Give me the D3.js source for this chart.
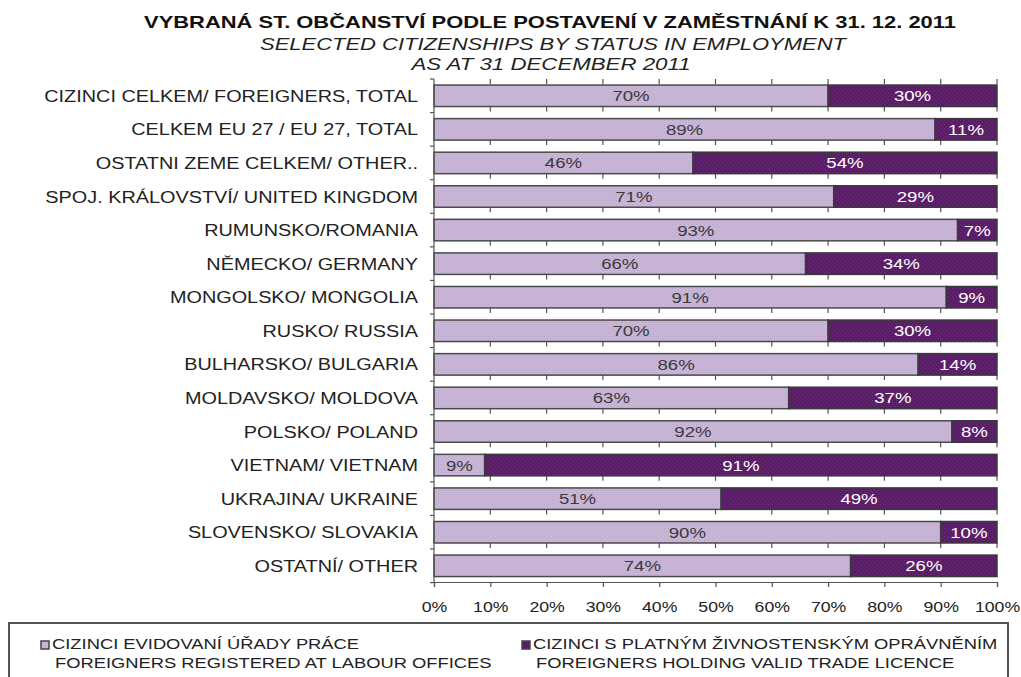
<!DOCTYPE html>
<html lang="cs">
<head>
<meta charset="UTF-8">
<title>Vybraná st. občanství podle postavení v zaměstnání</title>
<style>
  body { margin: 0; background: #fff; }
  svg { display: block; font-family: "Liberation Sans", Arial, sans-serif; }
</style>
</head>
<body>
<svg width="1021" height="677"></svg>
<script src="https://d3js.org/d3.v7.min.js"></script>
<script>
// data
const categories = [
  "CIZINCI CELKEM/ FOREIGNERS, TOTAL",
  "CELKEM EU 27 / EU 27, TOTAL ",
  "OSTATNI ZEME CELKEM/ OTHER..",
  "SPOJ. KRÁLOVSTVÍ/ UNITED KINGDOM",
  "RUMUNSKO/ROMANIA",
  "NĚMECKO/ GERMANY",
  "MONGOLSKO/ MONGOLIA",
  "RUSKO/ RUSSIA",
  "BULHARSKO/ BULGARIA",
  "MOLDAVSKO/ MOLDOVA",
  "POLSKO/ POLAND",
  "VIETNAM/ VIETNAM",
  "UKRAJINA/ UKRAINE",
  "SLOVENSKO/ SLOVAKIA",
  "OSTATNÍ/ OTHER"
];
const labourOffices = [70, 89, 46, 71, 93, 66, 91, 70, 86, 63, 92, 9, 51, 90, 74];
const tradeLicence  = [30, 11, 54, 29, 7, 34, 9, 30, 14, 37, 8, 91, 49, 10, 26];
const xTicks = [0, 10, 20, 30, 40, 50, 60, 70, 80, 90, 100];
const seriesNames = [
  ["CIZINCI EVIDOVANÍ ÚŘADY PRÁCE", "FOREIGNERS REGISTERED AT LABOUR OFFICES"],
  ["CIZINCI S PLATNÝM ŽIVNOSTENSKÝM OPRÁVNĚNÍM", "FOREIGNERS HOLDING VALID TRADE LICENCE"]
];
const colors = ["#c9b6d6", "#5a1c68"];

const svg = d3.select("svg");

// the original text is rendered wide, so stretch it horizontally
function widen(sel, k) {
  sel.each(function () {
    const w = this.getComputedTextLength();
    d3.select(this).attr("textLength", w * k).attr("lengthAdjust", "spacingAndGlyphs");
  });
}

// pattern fills to mimic the dithered look
const defs = svg.append("defs");
function dither(id, base, dot) {
  const p = defs.append("pattern").attr("id", id)
    .attr("width", 4).attr("height", 4).attr("patternUnits", "userSpaceOnUse");
  p.append("rect").attr("width", 4).attr("height", 4).attr("fill", base);
  p.append("rect").attr("x", 0).attr("y", 0).attr("width", 1).attr("height", 1).attr("fill", dot);
  p.append("rect").attr("x", 2).attr("y", 2).attr("width", 1).attr("height", 1).attr("fill", dot);
}
dither("lightFill", colors[0], "#b9a5c8");
dither("darkFill", colors[1], "#6e3479");

// titles
svg.append("text").attr("x", 550).attr("y", 28).attr("text-anchor", "middle")
  .attr("font-size", 17).attr("font-weight", "bold").attr("fill", "#111")
  .attr("textLength", 812).attr("lengthAdjust", "spacingAndGlyphs")
  .text("VYBRANÁ ST. OBČANSTVÍ PODLE POSTAVENÍ V ZAMĚSTNÁNÍ K 31. 12. 2011");
svg.append("text").attr("x", 553).attr("y", 50).attr("text-anchor", "middle")
  .attr("font-size", 16).attr("font-style", "italic").attr("fill", "#222")
  .attr("textLength", 586).attr("lengthAdjust", "spacingAndGlyphs")
  .text("SELECTED CITIZENSHIPS BY STATUS IN EMPLOYMENT");
svg.append("text").attr("x", 551).attr("y", 70).attr("text-anchor", "middle")
  .attr("font-size", 16).attr("font-style", "italic").attr("fill", "#222")
  .attr("textLength", 279).attr("lengthAdjust", "spacingAndGlyphs")
  .text("AS AT 31 DECEMBER 2011");

const x = d3.scaleLinear().domain([0, 100]).range([434, 997]);
const y = d3.scaleBand().domain(categories).range([79, 582.6]).paddingInner(0.36).paddingOuter(0.18);

// short grid marks visible in gaps between bars
const gapTops = [79].concat(categories.map(c => y(c) + y.bandwidth()));
const grid = svg.append("g");
gapTops.forEach((g0, i) => {
  if (i === categories.length) return;
  grid.selectAll(null).data(xTicks.slice(1)).enter().append("line")
    .attr("x1", d => x(d)).attr("x2", d => x(d))
    .attr("y1", g0).attr("y2", g0 + 5)
    .attr("stroke", "#555").attr("stroke-width", 1.2);
});

// bars
const rows = svg.append("g").selectAll("g").data(categories).enter().append("g");
rows.append("rect")
  .attr("x", x(0)).attr("y", d => y(d))
  .attr("width", (d, i) => x(labourOffices[i]) - x(0))
  .attr("height", y.bandwidth())
  .attr("fill", "url(#lightFill)").attr("stroke", "#4a4a4a").attr("stroke-width", 1.5);
rows.append("rect")
  .attr("x", (d, i) => x(labourOffices[i])).attr("y", d => y(d))
  .attr("width", (d, i) => x(labourOffices[i] + tradeLicence[i]) - x(labourOffices[i]))
  .attr("height", y.bandwidth())
  .attr("fill", "url(#darkFill)").attr("stroke", "#3a3a3a").attr("stroke-width", 1.5);

rows.append("text")
  .attr("x", (d, i) => x(labourOffices[i] / 2))
  .attr("y", d => y(d) + y.bandwidth() / 2 + 5.5)
  .attr("text-anchor", "middle").attr("font-size", 15.5).attr("fill", "#3a3a3a")
  .text((d, i) => labourOffices[i] + "%")
  .call(widen, 1.2);
rows.append("text")
  .attr("x", (d, i) => x(labourOffices[i] + tradeLicence[i] / 2))
  .attr("y", d => y(d) + y.bandwidth() / 2 + 5.5)
  .attr("text-anchor", "middle").attr("font-size", 15.5).attr("fill", "#fff")
  .text((d, i) => tradeLicence[i] + "%")
  .call(widen, 1.2);

// left axis with ticks at band boundaries
svg.append("line").attr("x1", x(0)).attr("x2", x(0)).attr("y1", 79).attr("y2", 582)
  .attr("stroke", "#555").attr("stroke-width", 1.2);
svg.append("g").selectAll("line").data(d3.range(categories.length + 1)).enter().append("line")
  .attr("x1", x(0) - 4).attr("x2", x(0))
  .attr("y1", i => 79 + i * y.step()).attr("y2", i => 79 + i * y.step())
  .attr("stroke", "#555").attr("stroke-width", 1.2);
svg.append("g").selectAll("text").data(categories).enter().append("text")
  .attr("x", 418).attr("y", d => y(d) + y.bandwidth() / 2 + 6)
  .attr("text-anchor", "end").attr("font-size", 16).attr("fill", "#222")
  .text(d => d)
  .call(widen, 1.24);

// bottom axis
const xAxis = svg.append("g").attr("transform", "translate(0,582)")
  .call(d3.axisBottom(x).tickValues(xTicks).tickSize(5).tickPadding(14).tickFormat(d => d + "%"));
xAxis.select(".domain").attr("stroke", "#555").attr("stroke-width", 1.2);
xAxis.selectAll(".tick line").attr("stroke", "#555").attr("stroke-width", 1.2);
xAxis.selectAll(".tick text").attr("font-size", 15.5).attr("fill", "#222")
  .attr("font-family", "Liberation Sans, Arial, sans-serif")
  .call(widen, 1.14);

// legend
const legend = svg.append("g");
legend.append("rect").attr("x", 9).attr("y", 623).attr("width", 999).attr("height", 70)
  .attr("fill", "none").attr("stroke", "#555").attr("stroke-width", 2);
const legendX = [41, 522];
seriesNames.forEach((names, i) => {
  const g = legend.append("g").attr("transform", `translate(${legendX[i]},0)`);
  g.append("rect").attr("x", 0).attr("y", 641).attr("width", 8).attr("height", 8)
    .attr("fill", colors[i]).attr("stroke", "#444").attr("stroke-width", 1.5);
  g.append("text").attr("x", 11).attr("y", 649).attr("font-size", 14).attr("fill", "#222")
    .text(names[0]).call(widen, 1.31);
  g.append("text").attr("x", 14).attr("y", 668).attr("font-size", 14).attr("fill", "#222")
    .text(names[1]).call(widen, 1.31);
});
</script>
</body>
</html>
